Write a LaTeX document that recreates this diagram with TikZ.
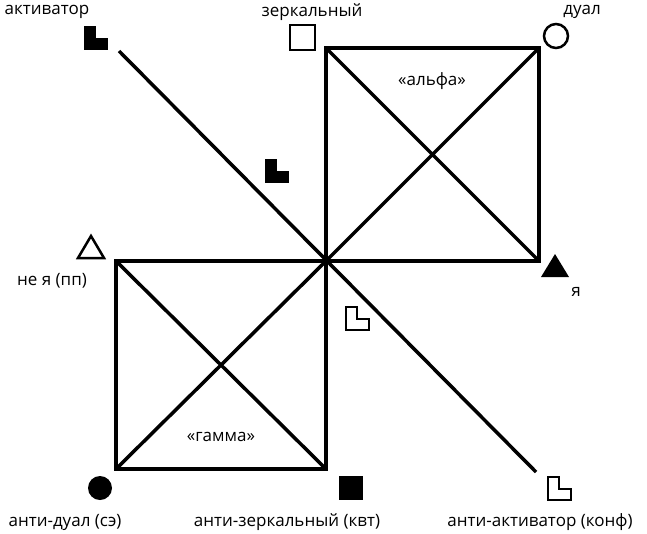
\documentclass[tikz,border=0pt]{standalone}
\usepackage{fontspec}
\setmainfont{Open Sans}
\begin{document}
\begin{tikzpicture}[x=1pt,y=-1pt,
  sq/.style={line width=4.5pt},
  dg/.style={line width=3.5pt},
  lbl/.style={font=\fontsize{17}{19}\selectfont, inner sep=0pt},
  ic/.style={line width=2.5pt}]
\useasboundingbox (0,0) rectangle (647,533);
\coordinate (c) at (326,261);
\coordinate (a1) at (326,48); \coordinate (a2) at (539,48); \coordinate (a3) at (539,261);
\coordinate (g1) at (116,261); \coordinate (g2) at (116,469); \coordinate (g3) at (326,469);
\coordinate (s) at (119,51); \coordinate (e) at (536,472);
\draw[sq] (c) rectangle (a2);
\draw[dg] (a1) -- (a3) (c) -- (a2);
\draw[sq] (g1) rectangle (g3);
\draw[dg] (g1) -- (g3) (g2) -- (c);
\draw[dg] (s) -- (e);
% icons
\def\Lshape#1#2#3{\draw[#3] (#1,#2) -- ++(11,0) -- ++(0,12) -- ++(12,0) -- ++(0,11) -- ++(-23,0) -- cycle;}
\Lshape{84}{26}{fill=black}
\Lshape{265}{159}{fill=black}
\Lshape{346}{307}{ic}
\Lshape{548}{477}{ic}
\draw[ic] (290,25) rectangle (315,50);
\draw[ic] (556,36) circle (12);
\fill (555,254) -- (569,277) -- (541,277) -- cycle;
\draw[ic] (91,236) -- (104,258) -- (78,258) -- cycle;
\fill (100,488) circle (12);
\fill (339,476) rectangle (363,500);
% labels
\node[lbl] (t1) at (47,12) {активатор};
\node[lbl] (t2) at (312,12) {зеркальный};
\node[lbl] (t3) at (582,12) {дуал};
\node[lbl] (t4) at (432,81) {«альфа»};
\node[lbl] (t5) at (576,292) {я};
\node[lbl] (t6) at (52,281) {не я (пп)};
\node[lbl] (t7) at (221,437) {«гамма»};
\node[lbl] (t8) at (65,522) {анти-дуал (сэ)};
\node[lbl] (t9) at (287,522) {анти-зеркальный (квт)};
\node[lbl] (t10) at (540,522) {анти-активатор (конф)};
\end{tikzpicture}
\end{document}
